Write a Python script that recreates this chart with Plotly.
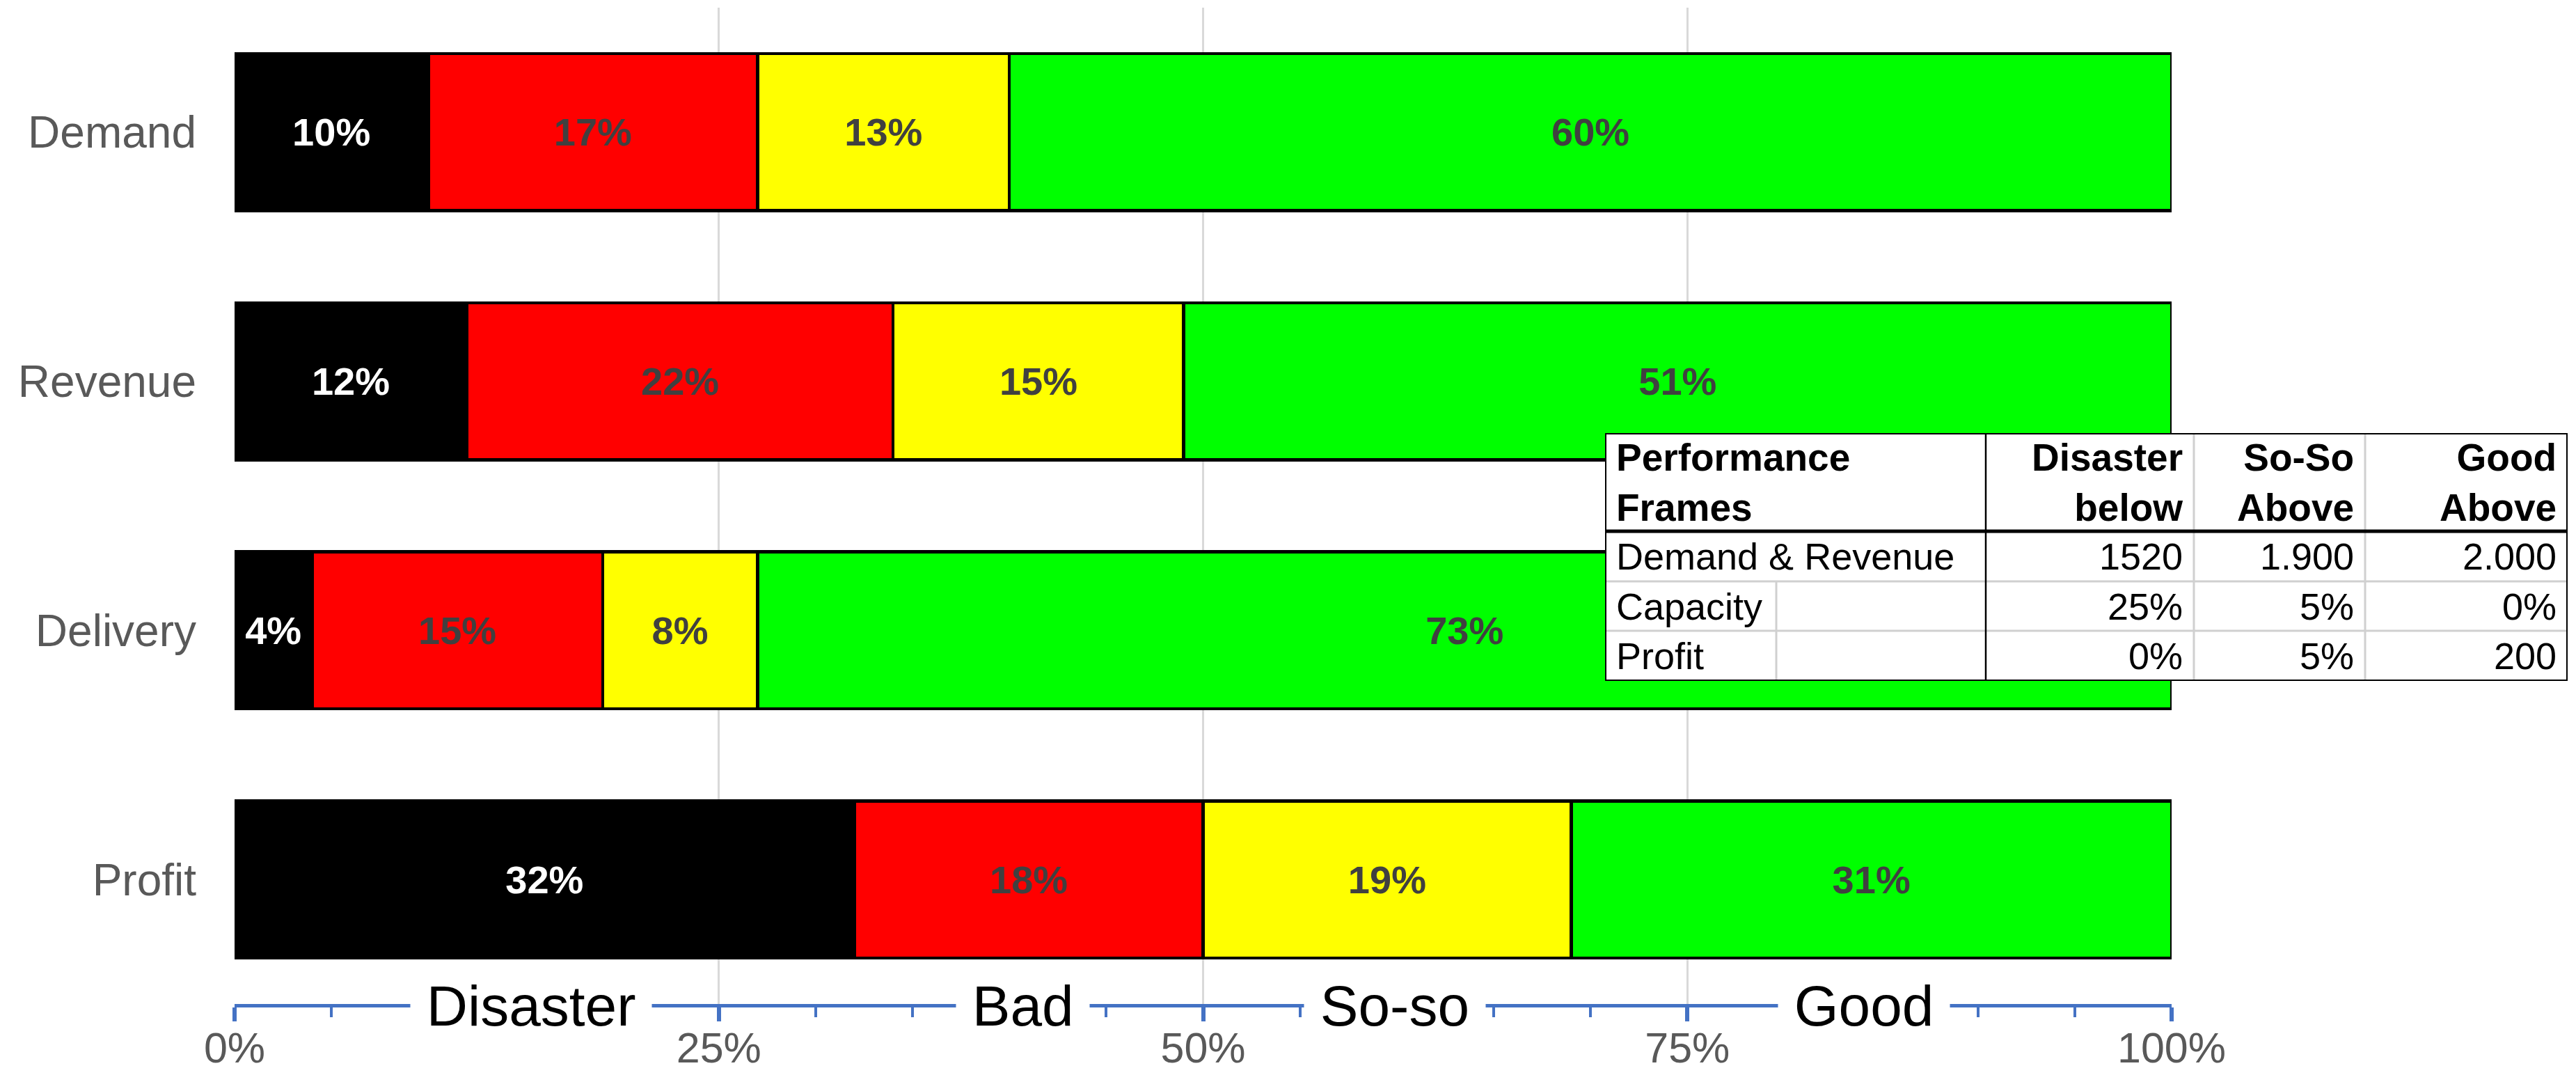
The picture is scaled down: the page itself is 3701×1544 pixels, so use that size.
import plotly.graph_objects as go

# ---- chart data -------------------------------------------------------------
categories = ["Demand", "Revenue", "Delivery", "Profit"]
disaster = [0.10, 0.12, 0.04, 0.32]
bad = [0.17, 0.22, 0.15, 0.18]
so_so = [0.13, 0.15, 0.08, 0.19]
good = [0.60, 0.51, 0.73, 0.31]

zone_names = ["Disaster", "Bad", "So-so", "Good"]
zone_label_x = [0.153, 0.407, 0.599, 0.841]

# ---- threshold table data ---------------------------------------------------
table_header = ["Performance<br>Frames", "Disaster<br>below", "So-So<br>Above", "Good<br>Above"]
table_rows = ["Demand & Revenue", "Capacity", "Profit"]
disaster_below = ["1520", "25%", "0%"]
so_so_above = ["1.900", "5%", "5%"]
good_above = ["2.000", "0%", "200"]

# ---- layout geometry --------------------------------------------------------
W, H = 3701, 1544
M_L, M_R, M_T, M_B = 337, 8, 11, 102
PW, PH = W - M_L - M_R, H - M_T - M_B
BAR_AREA_W = 2783

TABLE_LEFT, TABLE_TOP = 2306, 622
col_widths = [547, 299, 246, 291]
row_heights = [141, 72, 71, 72]
sub_divider = 246
TABLE_W, TABLE_H = sum(col_widths), sum(row_heights)

col_edges = [0]
for w in col_widths:
    col_edges.append(col_edges[-1] + w)
row_edges = [0]
for h in row_heights:
    row_edges.append(row_edges[-1] + h)

FONT = "Liberation Sans, Arial, sans-serif"
GRAY_TEXT = "#595959"
AXIS_BLUE = "#4472C4"
TABLE_GRID = "#D0D0D0"

# ---- stacked bars -----------------------------------------------------------
series = [
    ("Disaster", disaster, "#000000", "#FFFFFF"),
    ("Bad", bad, "#FF0000", "#404040"),
    ("So-so", so_so, "#FFFF00", "#404040"),
    ("Good", good, "#00FF00", "#404040"),
]

fig = go.Figure()
for name, vals, fill, txt in series:
    fig.add_trace(go.Bar(
        name=name,
        y=categories,
        x=vals,
        orientation="h",
        marker=dict(color=fill, line=dict(color="#000000", width=4.5)),
        texttemplate="%{x:.0%}",
        textposition="inside",
        insidetextanchor="middle",
        textangle=0,
        textfont=dict(family=FONT, size=56, color=txt, weight="bold"),
        showlegend=False,
        hoverinfo="skip",
    ))

# ---- table cell text --------------------------------------------------------
annotations = []
PAD = 14
table_columns = [table_rows, disaster_below, so_so_above, good_above]
for ci, head in enumerate(table_header):
    left = ci == 0
    annotations.append(dict(
        xref="x2", yref="y2",
        x=col_edges[ci] + PAD if left else col_edges[ci + 1] - PAD,
        y=(row_edges[0] + row_edges[1]) / 2,
        xanchor="left" if left else "right", yanchor="middle",
        align="left" if left else "right",
        text=f"<b>{head}</b>", showarrow=False,
        font=dict(family=FONT, size=55, color="#000000"),
    ))
    for ri, val in enumerate(table_columns[ci]):
        annotations.append(dict(
            xref="x2", yref="y2",
            x=col_edges[ci] + PAD if left else col_edges[ci + 1] - PAD,
            y=(row_edges[ri + 1] + row_edges[ri + 2]) / 2,
            xanchor="left" if left else "right", yanchor="middle",
            text=val, showarrow=False,
            font=dict(family=FONT, size=54, color="#000000"),
        ))

# zone names sitting on the axis line
for name, xpos in zip(zone_names, zone_label_x):
    annotations.append(dict(
        xref="x", yref="paper", x=xpos, y=0, yshift=-2,
        xanchor="center", yanchor="middle",
        text=f"&nbsp;{name}&nbsp;", showarrow=False,
        bgcolor="#FFFFFF", borderpad=0,
        font=dict(family=FONT, size=82, color="#000000"),
    ))

# ---- table frame ------------------------------------------------------------
def tline(x0, y0, x1, y1, color, width):
    return dict(type="line", xref="x2", yref="y2", x0=x0, y0=y0, x1=x1, y1=y1,
                line=dict(color=color, width=width), layer="above")

shapes = [
    dict(type="rect", xref="x2", yref="y2", x0=0, y0=0, x1=TABLE_W, y1=TABLE_H,
         fillcolor="#FFFFFF", line=dict(width=0), layer="above"),
]
for y in row_edges[2:-1]:
    shapes.append(tline(0, y, TABLE_W, y, TABLE_GRID, 3))
for x in col_edges[2:-1]:
    shapes.append(tline(x, 0, x, TABLE_H, TABLE_GRID, 3))
shapes.append(tline(sub_divider, row_edges[2], sub_divider, TABLE_H, TABLE_GRID, 3))
shapes.append(tline(col_edges[1], 0, col_edges[1], TABLE_H, "#000000", 2.5))
shapes.append(tline(0, row_edges[1], TABLE_W, row_edges[1], "#000000", 5))
shapes.append(dict(type="rect", xref="x2", yref="y2", x0=0, y0=0, x1=TABLE_W, y1=TABLE_H,
                   line=dict(color="#000000", width=4), layer="above"))

fig.update_layout(
    width=W, height=H,
    margin=dict(l=M_L, r=M_R, t=M_T, b=M_B, pad=0, autoexpand=False),
    barmode="stack",
    bargap=0.37,
    plot_bgcolor="#FFFFFF",
    paper_bgcolor="#FFFFFF",
    font=dict(family=FONT),
    xaxis=dict(
        domain=[0, BAR_AREA_W / PW],
        range=[0, 1],
        tick0=0, dtick=0.25, tickformat=".0%",
        ticks="outside", ticklen=20, tickwidth=6, tickcolor=AXIS_BLUE,
        ticklabelstandoff=-14,
        showline=True, linecolor=AXIS_BLUE, linewidth=5,
        showgrid=True, gridcolor="#D9D9D9", gridwidth=3,
        zeroline=False, automargin=False,
        tickfont=dict(family=FONT, size=61, color=GRAY_TEXT),
        minor=dict(dtick=0.05, tick0=0, ticks="outside", ticklen=14, tickwidth=4,
                   tickcolor=AXIS_BLUE, showgrid=False),
        fixedrange=True,
    ),
    yaxis=dict(
        categoryorder="array", categoryarray=categories,
        autorange="reversed",
        showgrid=False, zeroline=False, showline=False,
        ticks="", ticklabelstandoff=54, automargin=False,
        tickfont=dict(family=FONT, size=64, color=GRAY_TEXT),
        fixedrange=True,
    ),
    xaxis2=dict(
        domain=[(TABLE_LEFT - M_L) / PW, (TABLE_LEFT + TABLE_W - M_L) / PW],
        range=[0, TABLE_W], anchor="y2", visible=False, fixedrange=True,
        automargin=False,
    ),
    yaxis2=dict(
        domain=[(H - M_B - TABLE_TOP - TABLE_H) / PH, (H - M_B - TABLE_TOP) / PH],
        range=[TABLE_H, 0], anchor="x2", visible=False, fixedrange=True,
        automargin=False,
    ),
    shapes=shapes,
    annotations=annotations,
)

fig.write_html("out.html")
